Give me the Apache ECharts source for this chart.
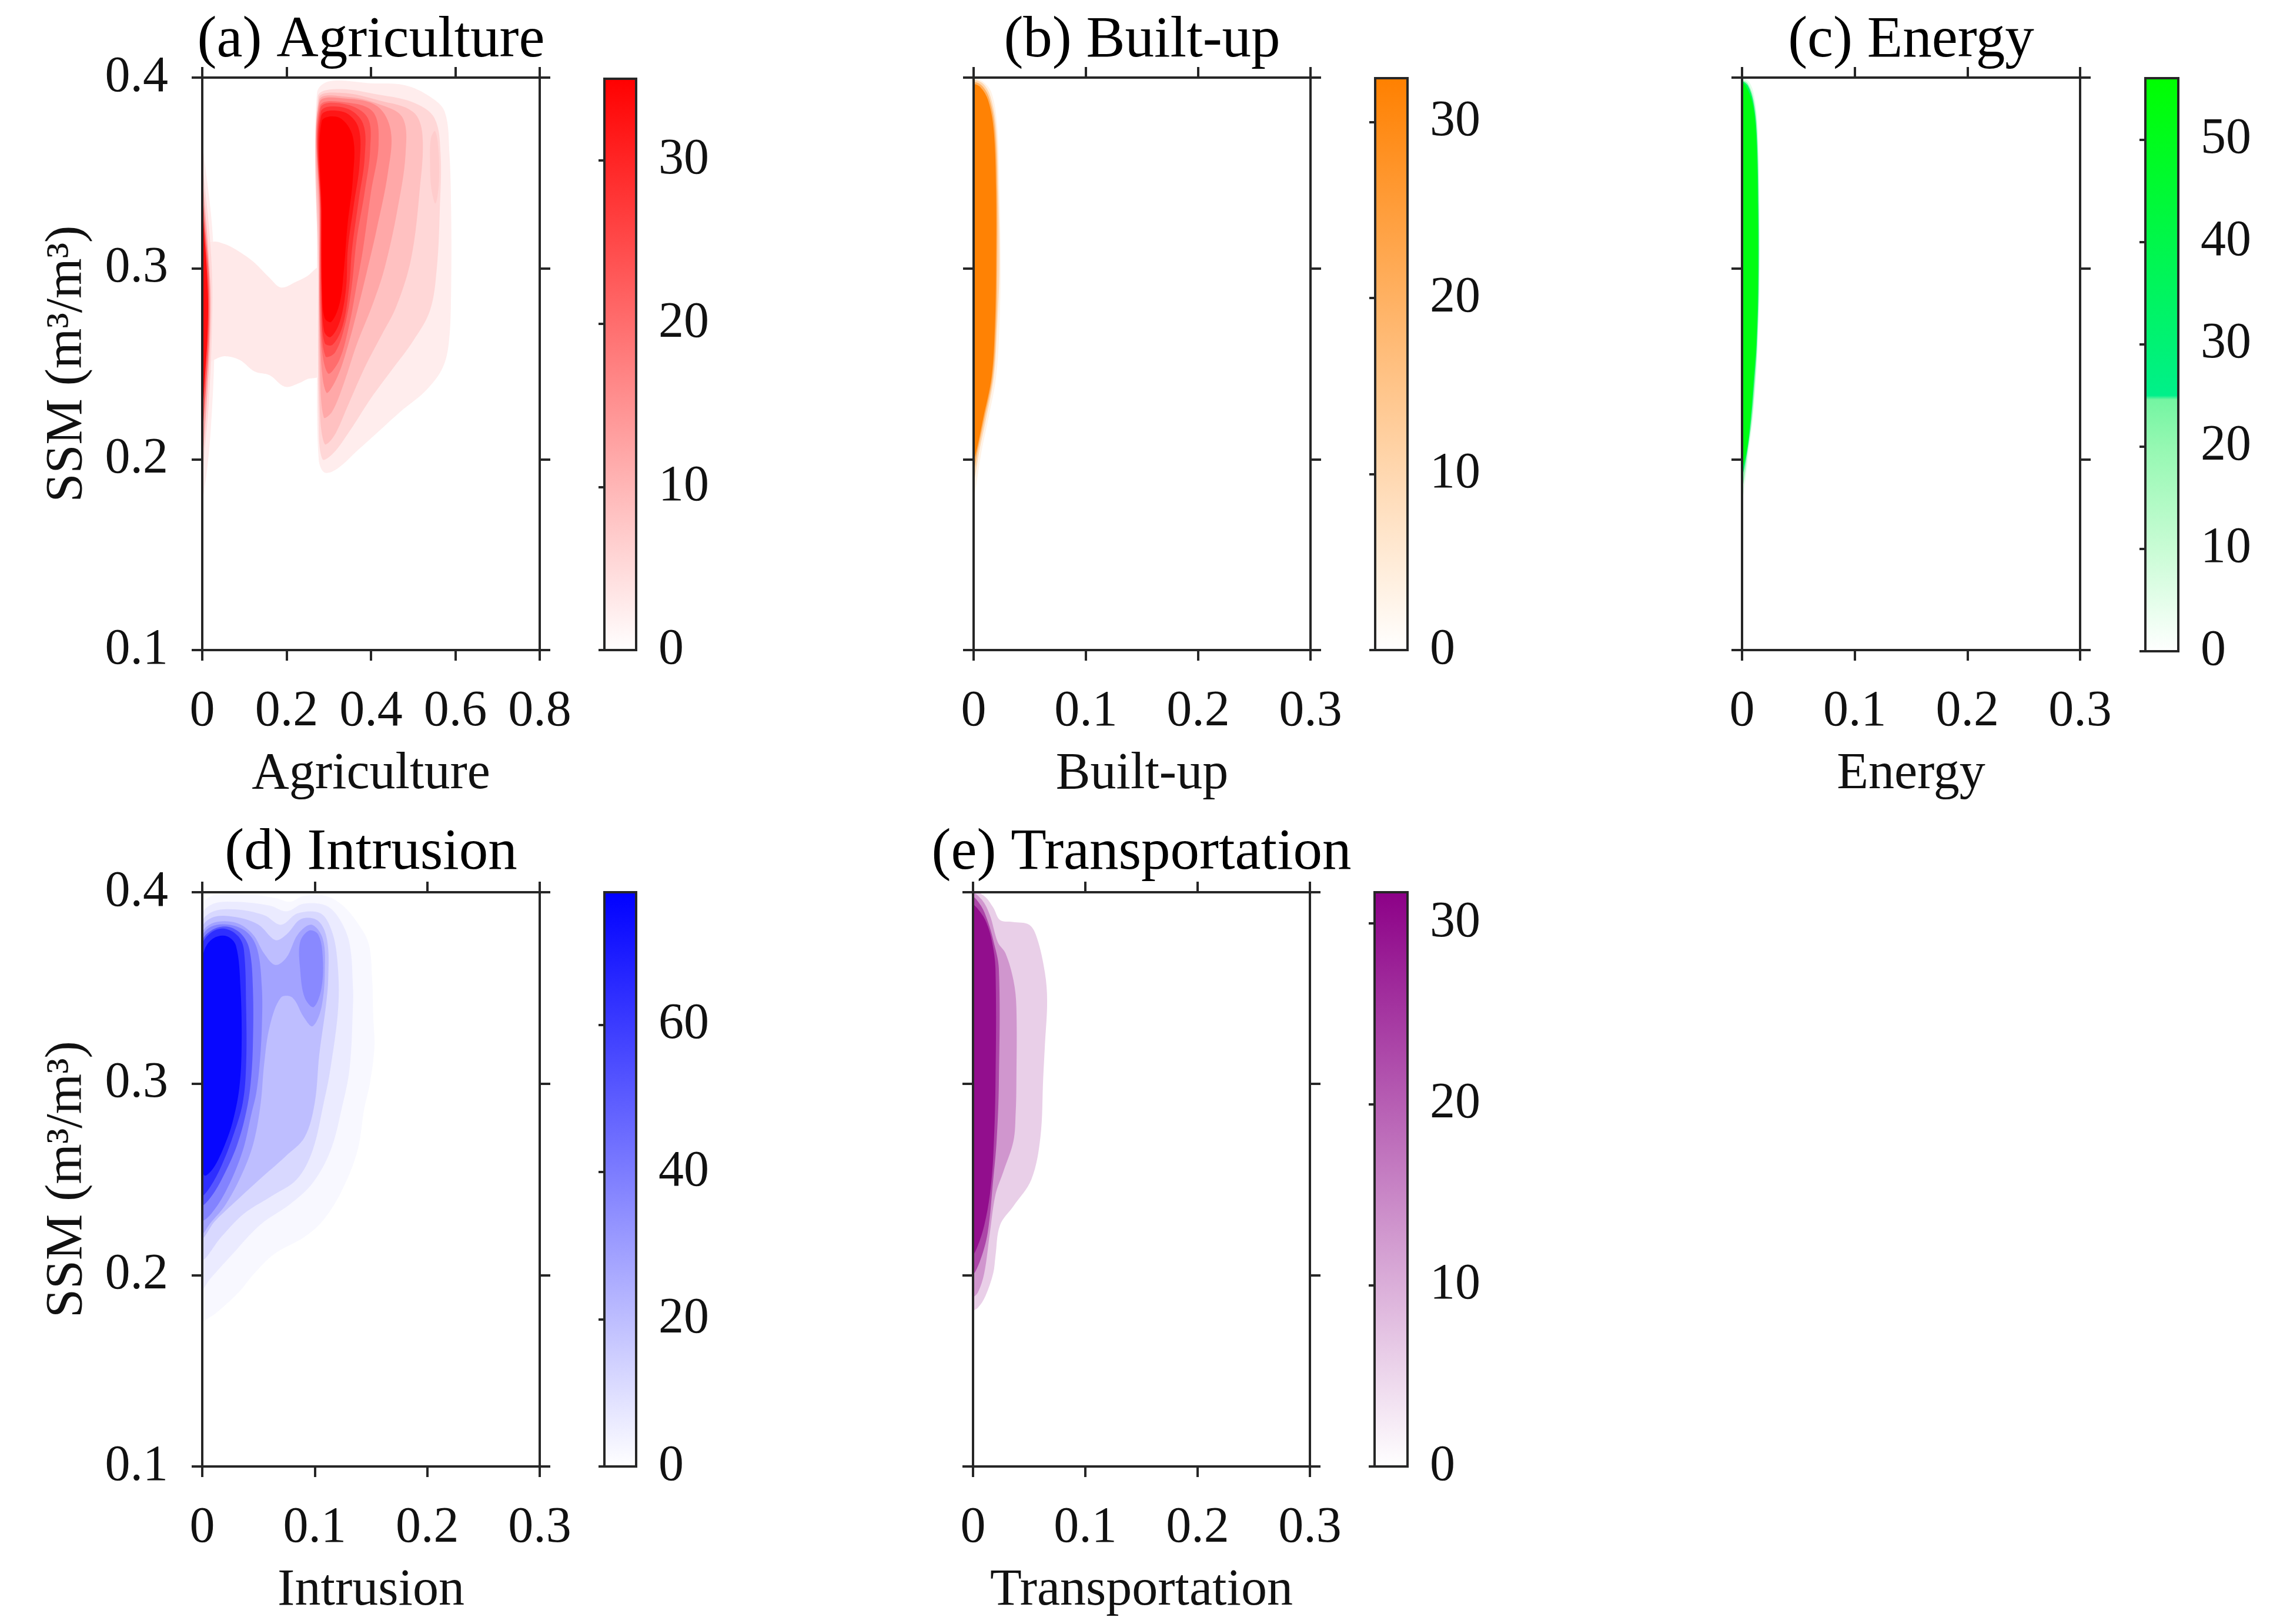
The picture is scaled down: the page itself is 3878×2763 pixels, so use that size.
<!DOCTYPE html>
<html>
<head>
<meta charset="utf-8">
<title>SSM density by land-use type</title>
<script src="https://cdn.jsdelivr.net/npm/echarts@6/dist/echarts.min.js"></script>
<style>
  html, body { margin: 0; padding: 0; background: #fff; }
  #main { width: 3878px; height: 2763px; }
</style>
</head>
<body>
<div id="main"></div>
<script>
// ---- data ----
const panelTitles = ['(a) Agriculture', '(b) Built-up', '(c) Energy', '(d) Intrusion', '(e) Transportation'];
const axisNames = ['Agriculture', 'Built-up', 'Energy', 'Intrusion', 'Transportation'];
const xMax = [0.8, 0.3, 0.3, 0.3, 0.3];
const xStep = [0.2, 0.1, 0.1, 0.1, 0.1];
const ssmMin = 0.1, ssmMax = 0.4, ssmStep = 0.1;
const densityMax = [35, 32.5, 56, 78, 31.7];
const colorbarStep = [10, 10, 10, 20, 10];

// filled contour levels, outlines as [share, SSM]
const agriLevels = [2.5, 3, 5.5, 12, 22, 33, 2.5, 5.5, 7, 8.5, 12, 16, 20, 24, 28, 32, 35];
const agriContours = [
  [[0,0.362],[0.012,0.345],[0.024,0.32],[0.03,0.29],[0.028,0.25],[0.02,0.215],[0.01,0.192],[0,0.18]],
  [[0.008,0.312],[0.027,0.314],[0.05,0.313],[0.071,0.311],[0.1,0.307],[0.124,0.303],[0.16,0.295],[0.187,0.29],[0.222,0.293],[0.249,0.296],[0.276,0.3],[0.276,0.244],[0.249,0.242],[0.231,0.24],[0.196,0.238],[0.16,0.244],[0.124,0.246],[0.089,0.252],[0.053,0.254],[0.027,0.252],[0.008,0.25]],
  [[0,0.352],[0.01,0.335],[0.02,0.31],[0.024,0.29],[0.022,0.26],[0.015,0.228],[0.006,0.205],[0,0.19]],
  [[0,0.345],[0.009,0.325],[0.017,0.3],[0.02,0.285],[0.018,0.26],[0.012,0.235],[0.005,0.212],[0,0.2]],
  [[0,0.338],[0.008,0.318],[0.015,0.298],[0.017,0.28],[0.015,0.26],[0.009,0.238],[0.003,0.22],[0,0.21]],
  [[0,0.33],[0.007,0.312],[0.012,0.295],[0.014,0.28],[0.012,0.262],[0.007,0.245],[0.002,0.228],[0,0.222]],
  [[0.272,0.392],[0.3,0.398],[0.4,0.397],[0.48,0.396],[0.54,0.39],[0.575,0.382],[0.586,0.36],[0.59,0.33],[0.59,0.29],[0.585,0.262],[0.57,0.248],[0.53,0.236],[0.47,0.225],[0.42,0.215],[0.37,0.205],[0.32,0.195],[0.29,0.193],[0.276,0.2],[0.272,0.25],[0.272,0.33]],
  [[0.274,0.39],[0.32,0.394],[0.42,0.391],[0.5,0.387],[0.55,0.379],[0.565,0.36],[0.563,0.33],[0.556,0.3],[0.54,0.278],[0.5,0.262],[0.45,0.247],[0.4,0.232],[0.35,0.215],[0.31,0.203],[0.285,0.2],[0.276,0.22],[0.274,0.3]],
  [[0.542,0.368],[0.552,0.372],[0.56,0.362],[0.561,0.345],[0.553,0.334],[0.543,0.342],[0.54,0.356]],
  [[0.276,0.389],[0.33,0.392],[0.42,0.388],[0.5,0.382],[0.522,0.37],[0.515,0.34],[0.495,0.305],[0.46,0.28],[0.425,0.265],[0.385,0.248],[0.345,0.228],[0.312,0.212],[0.29,0.208],[0.278,0.23],[0.276,0.3]],
  [[0.277,0.388],[0.34,0.39],[0.42,0.386],[0.475,0.379],[0.482,0.36],[0.462,0.33],[0.432,0.3],[0.402,0.28],[0.366,0.26],[0.336,0.24],[0.308,0.225],[0.288,0.222],[0.279,0.25],[0.277,0.32]],
  [[0.278,0.387],[0.34,0.389],[0.415,0.385],[0.447,0.372],[0.44,0.35],[0.413,0.32],[0.392,0.3],[0.37,0.28],[0.346,0.26],[0.32,0.243],[0.294,0.235],[0.28,0.26],[0.278,0.33]],
  [[0.279,0.385],[0.34,0.387],[0.405,0.382],[0.418,0.365],[0.4,0.34],[0.381,0.31],[0.365,0.29],[0.348,0.27],[0.325,0.252],[0.298,0.245],[0.281,0.265],[0.279,0.33]],
  [[0.28,0.384],[0.34,0.386],[0.392,0.379],[0.398,0.362],[0.385,0.34],[0.366,0.315],[0.354,0.29],[0.338,0.27],[0.315,0.256],[0.292,0.254],[0.282,0.275],[0.28,0.33]],
  [[0.281,0.382],[0.34,0.384],[0.381,0.376],[0.385,0.358],[0.371,0.336],[0.355,0.31],[0.348,0.29],[0.333,0.27],[0.309,0.26],[0.29,0.261],[0.283,0.28],[0.281,0.33]],
  [[0.282,0.38],[0.335,0.382],[0.37,0.374],[0.373,0.355],[0.359,0.333],[0.345,0.31],[0.341,0.29],[0.326,0.272],[0.304,0.264],[0.289,0.267],[0.283,0.29],[0.282,0.33]],
  [[0.283,0.377],[0.325,0.379],[0.357,0.369],[0.357,0.347],[0.344,0.322],[0.336,0.3],[0.326,0.282],[0.306,0.272],[0.29,0.274],[0.284,0.29],[0.283,0.33]]
];

const builtLevels = [3, 10, 20, 32];
const builtContours = [
  [[0,0.399],[0.008,0.398],[0.016,0.392],[0.021,0.375],[0.023,0.34],[0.024,0.3],[0.023,0.27],[0.02,0.243],[0.013,0.221],[0.007,0.204],[0.003,0.189],[0,0.18]],
  [[0,0.398],[0.008,0.397],[0.015,0.39],[0.02,0.374],[0.022,0.34],[0.023,0.3],[0.021,0.27],[0.018,0.243],[0.011,0.221],[0.005,0.204],[0.001,0.19],[0,0.188]],
  [[0,0.397],[0.007,0.396],[0.014,0.389],[0.019,0.373],[0.021,0.34],[0.021,0.3],[0.02,0.27],[0.017,0.243],[0.0095,0.221],[0.0035,0.204],[0,0.194]],
  [[0,0.396],[0.006,0.395],[0.013,0.388],[0.018,0.372],[0.02,0.34],[0.02,0.3],[0.019,0.27],[0.016,0.243],[0.0084,0.221],[0.0024,0.204],[0,0.2]]
];

const energyLevels = [5, 20, 35, 52];
const energyContours = [
  [[0,0.399],[0.006,0.398],[0.011,0.39],[0.014,0.372],[0.0155,0.33],[0.0155,0.29],[0.014,0.26],[0.0125,0.243],[0.0095,0.221],[0.006,0.204],[0.003,0.189],[0,0.179]],
  [[0,0.398],[0.005,0.397],[0.0105,0.388],[0.0135,0.371],[0.015,0.33],[0.015,0.29],[0.0135,0.26],[0.0118,0.243],[0.0088,0.221],[0.005,0.204],[0.002,0.19],[0,0.185]],
  [[0,0.3975],[0.005,0.396],[0.01,0.387],[0.013,0.37],[0.0145,0.33],[0.0145,0.29],[0.013,0.26],[0.011,0.243],[0.008,0.221],[0.0045,0.204],[0,0.192]],
  [[0,0.397],[0.004,0.395],[0.0095,0.386],[0.0125,0.37],[0.014,0.33],[0.014,0.29],[0.0125,0.26],[0.0104,0.243],[0.0074,0.221],[0.0039,0.204],[0,0.196]]
];

const intrusionLevels = [2, 6, 12, 20, 28, 38, 36, 52, 64, 76];
const intrusionContours = [
  [[0,0.393],[0.005,0.397],[0.015,0.399],[0.04,0.399],[0.065,0.397],[0.078,0.395],[0.09,0.398],[0.11,0.398],[0.125,0.393],[0.138,0.384],[0.148,0.373],[0.151,0.355],[0.152,0.335],[0.153,0.319],[0.149,0.3],[0.144,0.287],[0.138,0.265],[0.124,0.244],[0.108,0.229],[0.091,0.22],[0.064,0.211],[0.045,0.2],[0.034,0.192],[0.014,0.181],[0.004,0.177],[0,0.176]],
  [[0,0.388],[0.01,0.394],[0.03,0.395],[0.06,0.393],[0.075,0.39],[0.09,0.394],[0.11,0.393],[0.122,0.386],[0.131,0.373],[0.134,0.35],[0.134,0.341],[0.131,0.308],[0.124,0.287],[0.114,0.265],[0.098,0.248],[0.078,0.237],[0.051,0.226],[0.027,0.211],[0.007,0.198],[0,0.193]],
  [[0,0.384],[0.01,0.39],[0.03,0.391],[0.055,0.388],[0.07,0.383],[0.085,0.389],[0.105,0.389],[0.115,0.38],[0.12,0.365],[0.121,0.341],[0.114,0.308],[0.108,0.29],[0.098,0.265],[0.084,0.25],[0.061,0.241],[0.037,0.232],[0.017,0.22],[0,0.209]],
  [[0,0.381],[0.01,0.387],[0.03,0.387],[0.05,0.383],[0.065,0.375],[0.075,0.378],[0.088,0.386],[0.103,0.385],[0.111,0.375],[0.112,0.355],[0.11,0.341],[0.104,0.315],[0.1,0.29],[0.091,0.272],[0.074,0.262],[0.051,0.25],[0.027,0.237],[0.011,0.228],[0,0.22]],
  [[0,0.378],[0.01,0.384],[0.03,0.384],[0.045,0.378],[0.055,0.368],[0.065,0.362],[0.075,0.366],[0.085,0.378],[0.097,0.383],[0.107,0.376],[0.109,0.36],[0.106,0.34],[0.098,0.33],[0.09,0.335],[0.08,0.345],[0.07,0.345],[0.06,0.33],[0.055,0.31],[0.052,0.29],[0.046,0.27],[0.037,0.255],[0.021,0.237],[0.007,0.227],[0,0.222]],
  [[0,0.376],[0.008,0.382],[0.024,0.383],[0.04,0.379],[0.049,0.37],[0.053,0.35],[0.053,0.33],[0.051,0.31],[0.048,0.295],[0.044,0.285],[0.036,0.265],[0.022,0.245],[0.008,0.232],[0,0.229]],
  [[0.087,0.374],[0.095,0.38],[0.103,0.378],[0.107,0.367],[0.106,0.35],[0.099,0.34],[0.091,0.345],[0.087,0.36]],
  [[0,0.374],[0.008,0.38],[0.022,0.382],[0.035,0.378],[0.042,0.37],[0.045,0.35],[0.045,0.32],[0.043,0.3],[0.039,0.285],[0.031,0.268],[0.019,0.252],[0.008,0.241],[0,0.237]],
  [[0,0.372],[0.008,0.379],[0.02,0.381],[0.032,0.377],[0.037,0.37],[0.039,0.34],[0.039,0.31],[0.036,0.29],[0.027,0.272],[0.017,0.257],[0.007,0.246],[0,0.242]],
  [[0.002,0.37],[0.01,0.376],[0.022,0.377],[0.03,0.372],[0.034,0.35],[0.035,0.32],[0.033,0.298],[0.027,0.28],[0.02,0.268],[0.01,0.256],[0.002,0.252],[0,0.26],[0,0.36]]
];

const transLevels = [6, 13, 23, 30];
const transContours = [
  [[0,0.4],[0.01,0.398],[0.018,0.392],[0.024,0.3855],[0.035,0.3845],[0.05,0.383],[0.057,0.376],[0.064,0.358],[0.066,0.343],[0.064,0.32],[0.0625,0.303],[0.06,0.272],[0.052,0.25],[0.036,0.236],[0.024,0.226],[0.02,0.21],[0.018,0.201],[0.011,0.189],[0.0044,0.183],[0,0.182]],
  [[0,0.399],[0.008,0.396],[0.015,0.388],[0.022,0.374],[0.029,0.368],[0.036,0.354],[0.0386,0.34],[0.0386,0.3],[0.038,0.285],[0.036,0.27],[0.027,0.254],[0.02,0.242],[0.015,0.222],[0.01,0.201],[0.0044,0.191],[0,0.189]],
  [[0,0.397],[0.007,0.393],[0.013,0.385],[0.018,0.375],[0.023,0.36],[0.023,0.3],[0.021,0.27],[0.018,0.25],[0.013,0.222],[0.006,0.207],[0,0.201]],
  [[0,0.393],[0.006,0.39],[0.012,0.384],[0.017,0.374],[0.02,0.36],[0.02,0.3],[0.018,0.262],[0.015,0.242],[0.01,0.226],[0.004,0.215],[0,0.211]]
];

const panelLevels = [agriLevels, builtLevels, energyLevels, intrusionLevels, transLevels];
const panelContours = [agriContours, builtContours, energyContours, intrusionContours, transContours];

// ---- styling / layout ----
const colormaps = [
  [[0, '#ffffff'], [35, '#ff0000']],
  [[0, '#ffffff'], [32.5, '#ff8000']],
  [[0, '#ffffff'], [10, '#c9fcd5'], [20, '#95f8b2'], [24.6, '#74f5a2'], [25, '#00f08a'], [30, '#00f274'], [40, '#00f74a'], [50, '#00fc1c'], [56, '#00ff00']],
  [[0, '#ffffff'], [78, '#0000ff']],
  [[0, '#ffffff'], [31.7, '#8c0087']]
];
const plotBoxes = [[344, 132, 574, 974], [1656, 132, 573, 974], [2963, 132, 575, 974], [344, 1518, 574, 977], [1655, 1518, 573, 977]];
const cbarBoxes = [[1028, 134, 54, 972], [2339, 133, 55, 973], [3649, 133, 56, 975], [1028, 1518, 54, 977], [2338, 1518, 56, 977]];
const titleY = [70, 70, 70, 1452, 1452];
const FONT = 'Liberation Serif';
const INK = '#262626';

function hexRgb(h) {
  return [1, 3, 5].map(i => parseInt(h.slice(i, i + 2), 16));
}
function colorAt(stops, v) {
  if (v <= stops[0][0]) return stops[0][1];
  for (let i = 1; i < stops.length; i++) {
    if (v <= stops[i][0]) {
      const t = (v - stops[i - 1][0]) / (stops[i][0] - stops[i - 1][0]);
      const a = hexRgb(stops[i - 1][1]), b = hexRgb(stops[i][1]);
      return 'rgb(' + a.map((c, j) => Math.round(c + (b[j] - c) * t)).join(',') + ')';
    }
  }
  return stops[stops.length - 1][1];
}

const grid = [], xAxis = [], yAxis = [], series = [], graphic = [];

function frameAxis(gridIndex, position, min, max, interval, labels) {
  return {
    type: 'value', gridIndex: gridIndex, position: position,
    min: min, max: max, interval: interval, z: 10,
    axisLine: { show: true, onZero: false, lineStyle: { color: INK, width: 4 } },
    axisTick: { show: true, inside: false, length: 18, lineStyle: { color: INK, width: 4 } },
    splitLine: { show: false },
    axisLabel: { show: labels, fontFamily: FONT, fontSize: 86, color: '#111', margin: 62 }
  };
}

for (let i = 0; i < 5; i++) {
  const pb = plotBoxes[i], cb = cbarBoxes[i];
  const g = grid.length;
  grid.push({ left: pb[0], top: pb[1], width: pb[2], height: pb[3] });
  grid.push({ left: cb[0], top: cb[1], width: cb[2], height: cb[3] });

  const xb = frameAxis(g, 'bottom', 0, xMax[i], xStep[i], true);
  xb.name = axisNames[i];
  xb.nameLocation = 'middle';
  xb.nameGap = 168;
  xb.nameTextStyle = { fontFamily: FONT, fontSize: 88, color: '#111' };
  const xbIndex = xAxis.length;
  xAxis.push(xb);
  xAxis.push(frameAxis(g, 'top', 0, xMax[i], xStep[i], false));

  const hasY = (i === 0 || i === 3);
  const yl = frameAxis(g, 'left', ssmMin, ssmMax, ssmStep, hasY);
  yl.axisLabel.margin = 58;
  if (hasY) {
    yl.name = 'SSM (m³/m³)';
    yl.nameLocation = 'middle';
    yl.nameGap = 185;
    yl.nameTextStyle = { fontFamily: FONT, fontSize: 88, color: '#111' };
  }
  const ylIndex = yAxis.length;
  yAxis.push(yl);
  yAxis.push(frameAxis(g, 'right', ssmMin, ssmMax, ssmStep, false));

  const cmap = colormaps[i];
  const contours = panelContours[i];
  series.push({
    type: 'custom',
    coordinateSystem: 'cartesian2d',
    xAxisIndex: xbIndex, yAxisIndex: ylIndex,
    clip: true, silent: true, animation: false,
    data: panelLevels[i].map((lv, k) => [k, lv]),
    renderItem: function (params, api) {
      const k = api.value(0);
      const pts = contours[k].map(p => api.coord(p));
      return {
        type: 'polygon',
        shape: { points: pts, smooth: 0.35 },
        style: { fill: colorAt(cmap, api.value(1)), stroke: null }
      };
    }
  });

  // colorbar
  const cxIndex = xAxis.length;
  xAxis.push({ type: 'value', gridIndex: g + 1, min: 0, max: 1, show: false });
  const cyIndex = yAxis.length;
  const dmax = densityMax[i];
  yAxis.push({
    type: 'value', gridIndex: g + 1, position: 'right',
    min: 0, max: dmax, interval: colorbarStep[i], z: 10,
    axisLine: { show: false },
    axisTick: { show: true, inside: true, length: 10, lineStyle: { color: INK, width: 4 } },
    splitLine: { show: false },
    axisLabel: { fontFamily: FONT, fontSize: 86, color: '#111', margin: 38, showMaxLabel: false, showMinLabel: true }
  });
  series.push({
    type: 'custom',
    coordinateSystem: 'cartesian2d',
    xAxisIndex: cxIndex, yAxisIndex: cyIndex,
    silent: true, animation: false,
    data: [[0, 0]],
    renderItem: function (params, api) {
      const p0 = api.coord([0, 0]), p1 = api.coord([1, dmax]);
      return {
        type: 'rect',
        shape: { x: p0[0], y: p1[1], width: p1[0] - p0[0], height: p0[1] - p1[1] },
        style: {
          fill: new echarts.graphic.LinearGradient(0, 1, 0, 0,
            cmap.map(s => ({ offset: s[0] / dmax, color: s[1] }))),
          stroke: INK, lineWidth: 4
        }
      };
    }
  });

  graphic.push({
    type: 'text',
    x: pb[0] + pb[2] / 2, y: titleY[i],
    style: {
      text: panelTitles[i], font: '99px "' + FONT + '"', fill: '#000',
      align: 'center', verticalAlign: 'middle'
    }
  });
}

const myChart = echarts.init(document.getElementById('main'));
myChart.setOption({
  backgroundColor: '#ffffff',
  animation: false,
  grid: grid,
  xAxis: xAxis,
  yAxis: yAxis,
  series: series,
  graphic: graphic
});
window.addEventListener('resize', function () {
  myChart.resize();
});
</script>
</body>
</html>
